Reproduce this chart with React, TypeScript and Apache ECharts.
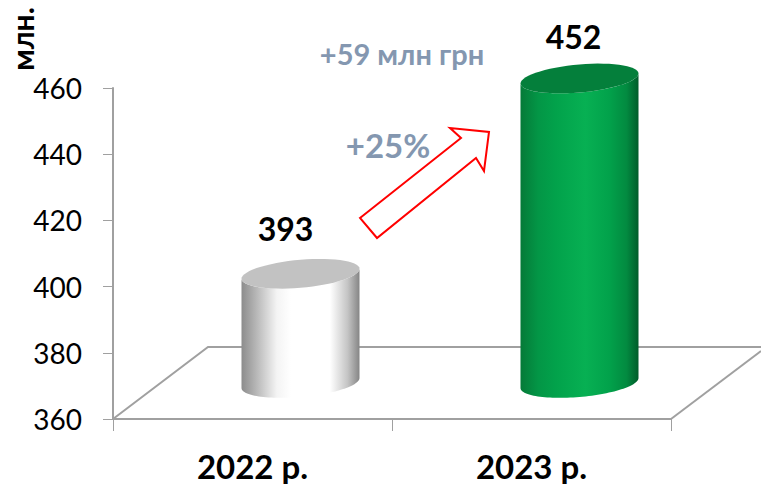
import React, { useEffect, useRef } from "react";
import * as echarts from "echarts";

const categories = ["2022 р.", "2023 р."];
const values = [393, 452];
const yMin = 360;
const yMax = 460;
const yStep = 20;
const unitLabel = "млн.";
const diffLabel = "+59 млн грн";
const pctLabel = "+25%";

const FONT = "Lato, 'Noto Sans', sans-serif";
const AXIS_COLOR = "#a0a0a0";
const NOTE_COLOR = "#8497b0";

const bodyStops = [
  [
    { offset: 0, color: "#8c8c8c" },
    { offset: 0.12, color: "#b5b5b5" },
    { offset: 0.3, color: "#f4f4f4" },
    { offset: 0.42, color: "#ffffff" },
    { offset: 0.75, color: "#ffffff" },
    { offset: 0.9, color: "#c4c4c4" },
    { offset: 1, color: "#858585" },
  ],
  [
    { offset: 0, color: "#057a38" },
    { offset: 0.15, color: "#039646" },
    { offset: 0.3, color: "#02a24b" },
    { offset: 0.55, color: "#07b053" },
    { offset: 0.75, color: "#02a24b" },
    { offset: 0.9, color: "#028a40" },
    { offset: 1, color: "#005c2a" },
  ],
];
const capColors = ["#c2c2c2", "#047f3b"];
const labelShift = [
  [33, -81],
  [42, -78],
];

const DEPTH_X = 48;
const DEPTH_Y = -36;
const RX = 59;
const SHEAR = 5;
const RY = 14;

function ringPoints(cx: number, cy: number, from: number, to: number) {
  const pts: number[][] = [];
  const n = 60;
  for (let i = 0; i <= n; i++) {
    const t = from + ((to - from) * i) / n;
    pts.push([cx + RX * Math.cos(t), cy - SHEAR * Math.cos(t) + RY * Math.sin(t)]);
  }
  return pts;
}

const renderCylinder = (params: any, api: any) => {
  const i = params.dataIndex;
  const top = api.coord([api.value(0), api.value(1)]);
  const base = api.coord([api.value(0), yMin]);
  const cx = top[0] + DEPTH_X;
  const topY = top[1] + DEPTH_Y;
  const baseY = base[1] + DEPTH_Y;
  const body = [
    ...ringPoints(cx, topY, Math.PI, 0),
    ...ringPoints(cx, baseY, 0, Math.PI),
  ];
  return {
    type: "group",
    children: [
      {
        type: "polygon",
        shape: { points: body },
        style: {
          fill: {
            type: "linear",
            x: 0,
            y: 0,
            x2: 1,
            y2: 0,
            colorStops: bodyStops[i],
          },
        },
      },
      {
        type: "polygon",
        shape: { points: ringPoints(cx, topY, 0, Math.PI * 2) },
        style: { fill: capColors[i] },
      },
      {
        type: "text",
        x: top[0] + labelShift[i][0],
        y: top[1] + labelShift[i][1],
        style: {
          text: String(values[i]),
          fill: "#000000",
          font: `bold 32px ${FONT}`,
          textAlign: "center",
          textVerticalAlign: "middle",
        },
      },
    ],
  };
};

export default function App() {
  const ref = useRef<HTMLDivElement>(null);
  useEffect(() => {
    const chart = echarts.init(ref.current!, undefined, { renderer: "svg" });
    const floorLine = { stroke: AXIS_COLOR, lineWidth: 2, fill: "none" };
    chart.setOption({
      animation: false,
      backgroundColor: "#ffffff",
      grid: { left: 113, right: 90, top: 88, bottom: 68, containLabel: false },
      xAxis: {
        type: "category",
        data: categories,
        axisLine: { lineStyle: { color: AXIS_COLOR, width: 2 } },
        axisTick: { show: true, length: 12, lineStyle: { color: AXIS_COLOR, width: 1 } },
        axisLabel: {
          color: "#000000",
          fontFamily: FONT,
          fontWeight: "bold",
          fontSize: 33,
          margin: 30,
        },
      },
      yAxis: {
        type: "value",
        min: yMin,
        max: yMax,
        interval: yStep,
        splitLine: { show: false },
        axisLine: { show: true, lineStyle: { color: AXIS_COLOR, width: 2 } },
        axisTick: { show: true, length: 10, lineStyle: { color: AXIS_COLOR, width: 1 } },
        axisLabel: { color: "#000000", fontFamily: FONT, fontSize: 28, margin: 31 },
      },
      series: [
        {
          type: "custom",
          z: 5,
          clip: false,
          data: values.map((v, i) => [i, v]),
          encode: { x: 0, y: 1 },
          renderItem: renderCylinder,
        },
      ],
      graphic: [
        {
          type: "polyline",
          z: 1,
          silent: true,
          shape: { points: [[113, 419], [208, 347], [761, 347]] },
          style: floorLine,
        },
        {
          type: "line",
          z: 1,
          silent: true,
          shape: { x1: 671, y1: 419, x2: 761, y2: 351 },
          style: floorLine,
        },
        {
          type: "polygon",
          z: 10,
          silent: true,
          shape: {
            points: [[360, 218], [461, 138], [450, 128], [489, 132], [484, 171], [476, 158], [377, 238]],
          },
          style: { fill: "#ffffff", stroke: "#ff0000", lineWidth: 2 },
        },
        {
          type: "text",
          z: 10,
          x: 402,
          y: 53,
          style: {
            text: diffLabel,
            fill: NOTE_COLOR,
            font: `bold 29px ${FONT}`,
            textAlign: "center",
            textVerticalAlign: "middle",
          },
        },
        {
          type: "text",
          z: 10,
          x: 388,
          y: 145,
          style: {
            text: pctLabel,
            fill: NOTE_COLOR,
            font: `bold 33px ${FONT}`,
            textAlign: "center",
            textVerticalAlign: "middle",
          },
        },
        {
          type: "text",
          z: 10,
          x: 22,
          y: 39,
          rotation: Math.PI / 2,
          style: {
            text: unitLabel,
            fill: "#000000",
            font: `bold 30px ${FONT}`,
            textAlign: "center",
            textVerticalAlign: "middle",
          },
        },
      ],
    });
    return () => chart.dispose();
  }, []);
  return (
    <div
      ref={ref}
      style={{ position: "absolute", left: 0, top: 0, width: 761, height: 487 }}
    />
  );
}
